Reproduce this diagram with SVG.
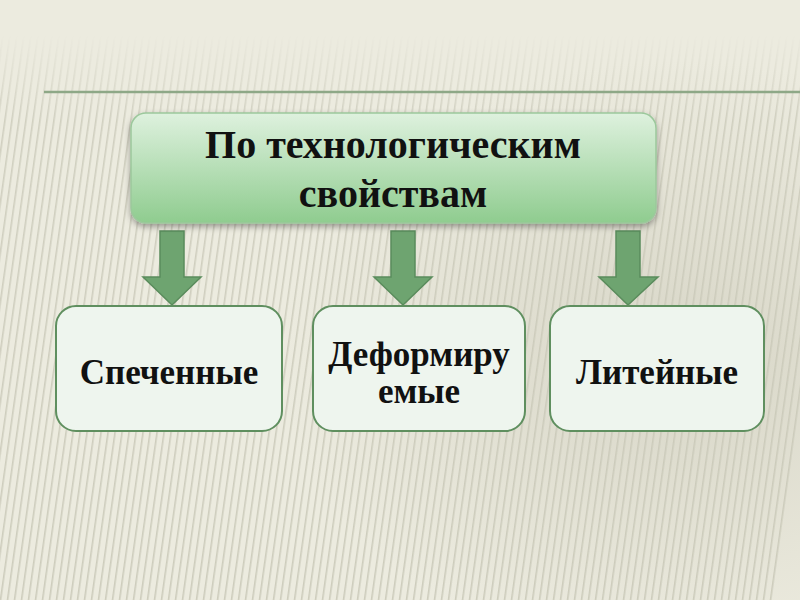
<svg xmlns="http://www.w3.org/2000/svg" width="800" height="600" viewBox="0 0 800 600">
<defs>
<style>
.title{font-family:"Liberation Serif","Times New Roman",serif;font-weight:bold;font-size:40px;fill:#111;text-anchor:middle}
.lbl{font-family:"Liberation Serif","Times New Roman",serif;font-weight:bold;font-size:35px;fill:#111;text-anchor:middle}
.box{fill:#eef5ee;stroke:#5f8f5f;stroke-width:2}
.arrow{fill:#6ea470;stroke:#5a8c5c;stroke-width:1.5}
</style>
<linearGradient id="topg" x1="0" y1="0" x2="0" y2="1">
<stop offset="0" stop-color="#def1de"/>
<stop offset="1" stop-color="#8fcc8f"/>
</linearGradient>
<pattern id="stripes" width="7" height="600" patternUnits="userSpaceOnUse">
<rect x="0" y="0" width="1.6" height="600" fill="#c9c8b8"/>
</pattern>
<linearGradient id="fade" x1="0" y1="0" x2="0" y2="1">
<stop offset="0" stop-color="#fff" stop-opacity="0"/>
<stop offset="0.06" stop-color="#fff" stop-opacity="0"/>
<stop offset="0.2" stop-color="#fff" stop-opacity="0.8"/>
<stop offset="1" stop-color="#fff" stop-opacity="0.9"/>
</linearGradient>
<mask id="m"><rect width="800" height="600" fill="url(#fade)"/></mask>
<radialGradient id="blob" cx="0.85" cy="0.6" r="0.5">
<stop offset="0" stop-color="#cfcdbd" stop-opacity="0.7"/>
<stop offset="1" stop-color="#cfcdbd" stop-opacity="0"/>
</radialGradient>
<filter id="sh" x="-10%" y="-10%" width="120%" height="130%">
<feDropShadow dx="0" dy="3" stdDeviation="3" flood-color="#000" flood-opacity="0.35"/>
</filter>
</defs>
<rect width="800" height="600" fill="#ecebdf"/>
<rect width="800" height="600" fill="url(#blob)"/>
<g mask="url(#m)"><rect x="-60" y="0" width="920" height="600" fill="url(#stripes)" transform="skewX(-8)"/></g>
<line x1="44" y1="92" x2="800" y2="92" stroke="#8ea887" stroke-width="2.5"/>
<g id="connectors">
<path class="arrow" d="M160 231 H184 V277 H201 L172 305 L143 277 H160 Z"/>
<path class="arrow" d="M391 231 H415 V277 H432 L403 305 L374 277 H391 Z"/>
<path class="arrow" d="M616 231 H640 V277 H658 L628 305 L599 277 H616 Z"/>
</g>
<g id="top">
<rect x="131" y="113" width="525" height="110" rx="15" fill="url(#topg)" stroke="#9cc89c" stroke-width="1.5" filter="url(#sh)"/>
<text class="title" x="393" y="158">По технологическим</text>
<text class="title" x="393" y="207">свойствам</text>
</g>
<g id="n1">
<rect class="box" x="56" y="306" width="226" height="125" rx="20"/>
<text class="lbl" x="169" y="384">Спеченные</text>
</g>
<g id="n2">
<rect class="box" x="313" y="306" width="212" height="125" rx="20"/>
<text class="lbl" x="419" y="366">Деформиру</text>
<text class="lbl" x="419" y="403">емые</text>
</g>
<g id="n3">
<rect class="box" x="550" y="306" width="214" height="125" rx="20"/>
<text class="lbl" x="657" y="384">Литейные</text>
</g>
</svg>
